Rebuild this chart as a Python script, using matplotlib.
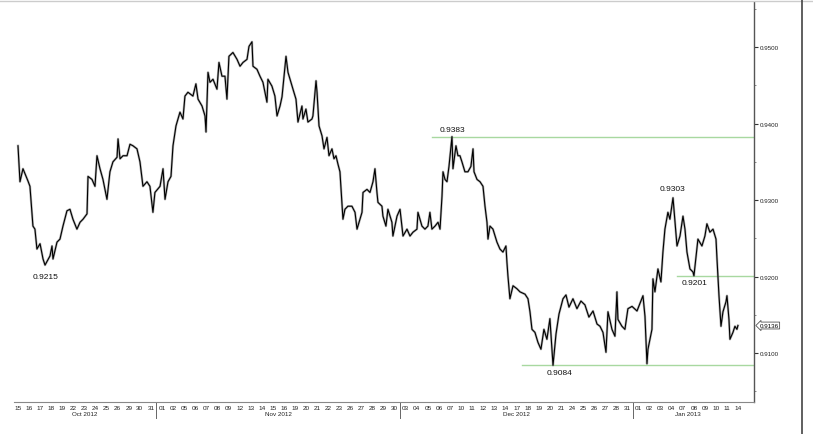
import matplotlib
matplotlib.use("Agg")
import matplotlib.pyplot as plt
import matplotlib.transforms as mtransforms
from matplotlib.lines import Line2D

plt.rcParams['font.family'] = ['Liberation Sans', 'DejaVu Sans']

# trading-day labels, Oct 15 2012 .. Jan 14 2013
oct_days = ["15", "16", "17", "18", "19", "22", "23", "24", "25", "26", "29", "30", "31"]
nov_days = ["01", "02", "05", "06", "07", "08", "09", "12", "13", "14", "15", "16", "19",
            "20", "21", "22", "23", "26", "27", "28", "29", "30"]
dec_days = ["03", "04", "05", "06", "07", "10", "11", "12", "13", "14", "17", "18", "19",
            "20", "21", "24", "25", "26", "27", "28", "31"]
jan_days = ["01", "02", "03", "04", "07", "08", "09", "10", "11", "14"]
month_names = ["Oct 2012", "Nov 2012", "Dec 2012", "Jan 2013"]

# price path (position in trading days, price)
pos = [0.0, 0.18, 0.45, 0.90, 1.08, 1.35, 1.53, 1.71, 1.99, 2.26,
       2.44, 2.89, 3.07, 3.16, 3.52, 3.79, 4.06, 4.42, 4.69, 4.96,
       5.32, 5.60, 5.87, 6.23, 6.32, 6.68, 6.95, 7.13, 7.40, 7.67,
       8.03, 8.30, 8.57, 8.94, 9.03, 9.21, 9.48, 9.84, 10.11, 10.38,
       10.74, 11.01, 11.28, 11.64, 11.91, 12.18, 12.36, 12.82, 13.09, 13.27,
       13.54, 13.81, 13.99, 14.26, 14.62, 14.89, 15.07, 15.34, 15.79, 16.06,
       16.25, 16.61, 16.88, 16.97, 17.15, 17.33, 17.60, 17.96, 18.14, 18.41,
       18.68, 18.86, 19.04, 19.40, 19.77, 20.04, 20.31, 20.67, 20.85, 21.12,
       21.21, 21.57, 21.84, 22.11, 22.47, 22.56, 22.92, 23.19, 23.38, 23.65,
       23.83, 24.19, 24.37, 24.55, 24.82, 25.09, 25.27, 25.63, 25.72, 25.99,
       26.17, 26.53, 26.62, 26.90, 26.99, 27.17, 27.44, 27.62, 27.89, 28.07,
       28.34, 28.52, 28.70, 28.88, 29.06, 29.24, 29.33, 29.51, 29.78, 30.14,
       30.42, 30.60, 30.87, 31.05, 31.14, 31.50, 31.77, 32.04, 32.22, 32.40,
       32.49, 32.85, 32.94, 33.21, 33.39, 33.75, 33.84, 34.21, 34.48, 34.75,
       35.11, 35.38, 35.65, 36.01, 36.10, 36.46, 36.73, 37.00, 37.18, 37.36,
       37.64, 37.91, 38.09, 38.27, 38.36, 38.54, 38.72, 38.90, 39.17, 39.26,
       39.53, 39.71, 39.89, 40.07, 40.34, 40.61, 40.88, 41.07, 41.16, 41.43,
       41.70, 41.97, 42.15, 42.33, 42.42, 42.60, 42.87, 43.23, 43.50, 43.77,
       44.04, 44.13, 44.22, 44.40, 44.68, 45.04, 45.31, 45.76, 46.03, 46.21,
       46.39, 46.66, 46.93, 47.20, 47.47, 47.74, 48.01, 48.29, 48.56, 48.83,
       49.19, 49.46, 49.73, 50.09, 50.45, 50.81, 51.17, 51.53, 51.90, 52.26,
       52.53, 52.80, 53.07, 53.25, 53.61, 53.88, 54.06, 54.15, 54.51, 54.78,
       55.05, 55.42, 55.87, 56.41, 56.59, 56.77, 56.86, 57.22, 57.31, 57.49,
       57.76, 58.03, 58.21, 58.39, 58.66, 58.84, 59.12, 59.30, 59.48, 59.75,
       60.02, 60.20, 60.38, 60.65, 60.92, 61.01, 61.37, 61.73, 62.00, 62.18,
       62.45, 62.73, 63.00, 63.09, 63.27, 63.45, 63.63, 63.90, 63.99, 64.17,
       64.26, 64.53, 64.71, 64.89, 64.98]
price = [0.9371, 0.9324, 0.9341, 0.9325, 0.9318, 0.9266, 0.9262, 0.9236, 0.9243, 0.9223,
         0.9215, 0.9227, 0.9240, 0.9223, 0.9245, 0.9249, 0.9266, 0.9286, 0.9288, 0.9275,
         0.9262, 0.9271, 0.9275, 0.9282, 0.9331, 0.9327, 0.9318, 0.9358, 0.9341, 0.9327,
         0.9301, 0.9337, 0.9350, 0.9356, 0.9380, 0.9354, 0.9358, 0.9358, 0.9373, 0.9371,
         0.9367, 0.9350, 0.9318, 0.9324, 0.9318, 0.9284, 0.9310, 0.9318, 0.9341, 0.9301,
         0.9324, 0.9331, 0.9371, 0.9397, 0.9415, 0.9406, 0.9436, 0.9441, 0.9436, 0.9452,
         0.9432, 0.9423, 0.9410, 0.9389, 0.9467, 0.9454, 0.9458, 0.9445, 0.9480, 0.9462,
         0.9462, 0.9432, 0.9488, 0.9493, 0.9484, 0.9475, 0.9480, 0.9484, 0.9501, 0.9507,
         0.9475, 0.9471, 0.9462, 0.9454, 0.9428, 0.9458, 0.9449, 0.9436, 0.9410, 0.9423,
         0.9435, 0.9488, 0.9467, 0.9458, 0.9445, 0.9432, 0.9402, 0.9423, 0.9406, 0.9419,
         0.9402, 0.9406, 0.9410, 0.9456, 0.9441, 0.9397, 0.9384, 0.9367, 0.9382, 0.9358,
         0.9367, 0.9354, 0.9358, 0.9347, 0.9337, 0.9297, 0.9275, 0.9288, 0.9292, 0.9292,
         0.9284, 0.9262, 0.9275, 0.9284, 0.9310, 0.9314, 0.9310, 0.9324, 0.9341, 0.9310,
         0.9297, 0.9292, 0.9279, 0.9266, 0.9288, 0.9271, 0.9253, 0.9279, 0.9288, 0.9253,
         0.9262, 0.9253, 0.9258, 0.9262, 0.9284, 0.9266, 0.9262, 0.9266, 0.9284, 0.9262,
         0.9266, 0.9271, 0.9262, 0.9305, 0.9337, 0.9327, 0.9324, 0.9344, 0.9383, 0.9341,
         0.9371, 0.9358, 0.9358, 0.9350, 0.9337, 0.9337, 0.9344, 0.9367, 0.9337, 0.9327,
         0.9324, 0.9318, 0.9292, 0.9271, 0.9249, 0.9266, 0.9262, 0.9245, 0.9236, 0.9232,
         0.9240, 0.9219, 0.9201, 0.9171, 0.9188, 0.9184, 0.9180, 0.9177, 0.9171, 0.9154,
         0.9131, 0.9127, 0.9114, 0.9105, 0.9131, 0.9118, 0.9145, 0.9084, 0.9125, 0.9151,
         0.9171, 0.9176, 0.9160, 0.9171, 0.9158, 0.9168, 0.9163, 0.9147, 0.9155, 0.9138,
         0.9135, 0.9127, 0.9101, 0.9154, 0.9131, 0.9122, 0.9180, 0.9144, 0.9135, 0.9131,
         0.9158, 0.9161, 0.9155, 0.9175, 0.9148, 0.9086, 0.9105, 0.9131, 0.9197, 0.9180,
         0.9210, 0.9193, 0.9232, 0.9262, 0.9284, 0.9275, 0.9303, 0.9271, 0.9240, 0.9253,
         0.9279, 0.9262, 0.9232, 0.9210, 0.9206, 0.9201, 0.9249, 0.9240, 0.9253, 0.9269,
         0.9258, 0.9262, 0.9249, 0.9223, 0.9175, 0.9135, 0.9154, 0.9167, 0.9175, 0.9144,
         0.9118, 0.9127, 0.9135, 0.9131, 0.9136]

# support / resistance levels
level_values = [0.9383, 0.9084, 0.9201]
level_start = [37.4, 45.5, 59.5]

# swing labels: text, day, price, vertical offset (points)
swing_text = ["0.9215", "0.9383", "0.9084", "0.9303", "0.9201"]
swing_day = [2.53, 39.17, 48.9, 59.1, 61.1]
swing_price = [0.9215, 0.9383, 0.9084, 0.9303, 0.9201]
swing_dy = [-8.5, 5, -5, 7, -4.5]

last_price = 0.9136

day_labels = oct_days + nov_days + dec_days + jan_days
month_sizes = [len(oct_days), len(nov_days), len(dec_days), len(jan_days)]

fig = plt.figure(figsize=(8.13, 4.35), dpi=100)
ax = fig.add_axes([14 / 813, 1 - 403 / 435, 740 / 813, 400 / 435])

ax.plot(pos, price, color='#777777', lw=1.7, alpha=0.55)
ax.plot(pos, price, color='black', lw=0.8)

for v, s in zip(level_values, level_start):
    ax.plot([s, 70], [v, v], color='#a8d8a0', lw=1.0, zorder=1)

for t, d, p, dy in zip(swing_text, swing_day, swing_price, swing_dy):
    ax.annotate(t, xy=(d, p), xytext=(0, dy), textcoords='offset points',
                ha='center', va='center', fontsize=6, color='#111111')

ax.set_xlim(-0.36, 66.43)
ax.set_ylim(0.9036, 0.9559)

ax.yaxis.tick_right()
ax.set_yticks([0.91, 0.92, 0.93, 0.94, 0.95])
ax.set_yticklabels(['%.4f' % v for v in [0.91, 0.92, 0.93, 0.94, 0.95]])
ax.set_yticks([0.905, 0.915, 0.925, 0.935, 0.945, 0.955], minor=True)
ax.tick_params(axis='y', which='major', length=3, width=0.8, color='#333333',
               labelsize=4.5, pad=1, labelcolor='#222222')
ax.tick_params(axis='y', which='minor', length=1.5, width=0.6, color='#777777')

ax.set_xticks(range(len(day_labels)))
ax.set_xticklabels(day_labels)
ax.tick_params(axis='x', length=0, labelsize=4.6, pad=2.5, labelcolor='#222222')

for side in ['left', 'top']:
    ax.spines[side].set_visible(False)
ax.spines['right'].set_color('#555555')
ax.spines['right'].set_linewidth(1.0)
ax.spines['bottom'].set_color('#888888')
ax.spines['bottom'].set_linewidth(0.8)

# month separators and month labels under the day labels
trans = mtransforms.blended_transform_factory(ax.transData, ax.transAxes)
start = 0
for name, n in zip(month_names, month_sizes):
    mid = start + (n - 1) / 2
    ax.text(mid, -0.029, name, transform=trans, ha='center', va='center',
            fontsize=4.5, color='#222222')
    if start > 0:
        ax.plot([start - 0.5, start - 0.5], [0, -0.04], transform=trans,
                color='#666666', lw=0.7, clip_on=False)
    start += n

# last price marker on the right axis
ax.annotate('%.4f' % last_price, xy=(1, last_price),
            xycoords=('axes fraction', 'data'), xytext=(4, 0),
            textcoords='offset points', ha='left', va='center', fontsize=4.5,
            bbox=dict(boxstyle='larrow,pad=0.15', fc='white', ec='#555555', lw=0.6))

# frame lines of the chart window
fig.add_artist(Line2D([0, 1], [1 - 1.5 / 435, 1 - 1.5 / 435], color='#cccccc', lw=1.0))
fig.add_artist(Line2D([802 / 813, 802 / 813], [0, 1], color='#444444', lw=1.2))

fig.savefig('out.png', dpi=100)
